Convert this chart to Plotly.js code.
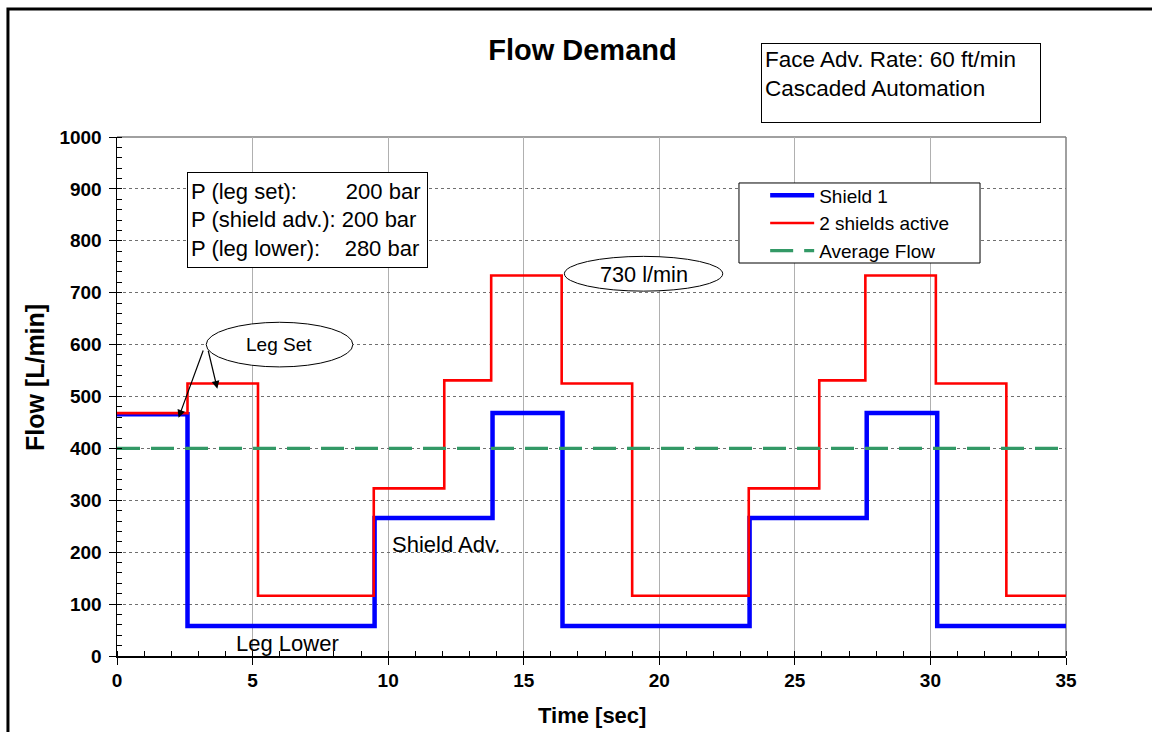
<!DOCTYPE html>
<html><head><meta charset="utf-8">
<script src="https://cdn.plot.ly/plotly-3.0.1.min.js"></script>
<style>html,body{margin:0;padding:0;background:#fff}</style>
</head><body><div id="chart" style="width:1152px;height:732px"></div>
<script>
// ---- data ----
const shield1Time = [0, 2.6, 9.5, 13.85, 16.43, 23.33, 27.65, 30.25, 35];
const shield1Flow = [466, 58, 266, 468, 58, 266, 468, 58, 58];
const twoShieldsTime = [0, 2.6, 5.2, 9.47, 12.07, 13.8, 16.4, 19.0, 23.3, 25.9, 27.6, 30.2, 32.8, 35];
const twoShieldsFlow = [468, 525, 116, 323, 531, 733, 525, 116, 323, 531, 733, 525, 116, 116];
const averageTime = [0, 35];
const averageFlow = [400, 400];
const xTicks = [0, 5, 10, 15, 20, 25, 30, 35];
const yTicks = [0, 100, 200, 300, 400, 500, 600, 700, 800, 900, 1000];
const seriesNames = ['Shield 1', '2 shields active', 'Average Flow'];

const FONT = 'Arial, "Liberation Sans", sans-serif';
const NB = '\u00a0';

const traces = [
  {x: shield1Time, y: shield1Flow, name: seriesNames[0], mode: 'lines',
   line: {shape: 'hv', color: '#0000ff', width: 4.5}},
  {x: twoShieldsTime, y: twoShieldsFlow, name: seriesNames[1], mode: 'lines',
   line: {shape: 'hv', color: '#ff0000', width: 2.6}},
  {x: averageTime, y: averageFlow, name: seriesNames[2], mode: 'lines',
   line: {color: '#339966', width: 3.2, dash: '23px,11px'}}
];

const layout = {
  width: 1152, height: 732, autosize: false,
  margin: {l: 117, r: 86, t: 137, b: 76},
  paper_bgcolor: '#ffffff', plot_bgcolor: '#ffffff',
  font: {family: FONT, color: '#000'},
  showlegend: true,
  title: {text: 'Flow Demand', font: {family: FONT, size: 29, weight: 700, color: '#000'},
          x: 0.5056, xanchor: 'center', xref: 'container', y: 0.9317, yanchor: 'middle', yref: 'container'},
  xaxis: {range: [0, 35], tickvals: xTicks, ticktext: xTicks.map(String), ticks: 'outside', ticklen: 7, tickwidth: 1,
          tickcolor: '#000', showline: true, linecolor: '#000', linewidth: 1.5, zeroline: false,
          showgrid: true, gridcolor: '#b0b0b0', gridwidth: 1,
          tickfont: {family: FONT, size: 19, weight: 700, color: '#000'},
          minor: {dtick: 1, ticks: 'inside', ticklen: 5, tickcolor: '#000', tickwidth: 1, showgrid: false}},
  yaxis: {range: [0, 1000], tickvals: yTicks, ticktext: yTicks.map(String), ticks: 'outside', ticklen: 7, tickwidth: 1,
          tickcolor: '#000', showline: true, linecolor: '#000', linewidth: 1.5, zeroline: false,
          showgrid: true, gridcolor: '#707070', gridwidth: 1, griddash: 'dot',
          tickfont: {family: FONT, size: 19, weight: 700, color: '#000'}, ticklabelstandoff: 3,
          minor: {dtick: 20, ticks: 'inside', ticklen: 5, tickcolor: '#000', tickwidth: 1, showgrid: false}},
  legend: {x: 0.683, y: 0.924, xanchor: 'left', yanchor: 'top', bgcolor: 'rgba(0,0,0,0)', borderwidth: 0,
           font: {family: FONT, size: 19, color: '#000'}, itemwidth: 44, tracegroupgap: 0},
  shapes: [
    // top and right plot frame
    {type: 'line', xref: 'paper', yref: 'paper', x0: 0, x1: 1, y0: 1, y1: 1, line: {color: '#808080', width: 1.5}, layer: 'below'},
    {type: 'line', xref: 'paper', yref: 'paper', x0: 1, x1: 1, y0: 0, y1: 1, line: {color: '#808080', width: 1.5}, layer: 'below'},
    // outer chart frame
    {type: 'rect', xref: 'paper', yref: 'paper', x0: -0.1149, x1: 1.2, y0: -0.3, y1: 1.2466, line: {color: '#000', width: 3}},
    // legend box
    {type: 'rect', xref: 'paper', yref: 'paper', x0: 0.6554, x1: 0.9094, y0: 0.7572, y1: 0.9114,
     line: {color: '#000', width: 1}, fillcolor: '#fff', layer: 'above'},
    // callout ellipses
    {type: 'circle', xref: 'x', yref: 'y', x0: 3.29, x1: 8.70, y0: 557, y1: 643, line: {color: '#000', width: 1}, fillcolor: '#fff'},
    {type: 'circle', xref: 'x', yref: 'y', x0: 16.50, x1: 22.34, y0: 703, y1: 770, line: {color: '#000', width: 1}, fillcolor: '#fff'}
  ],
  annotations: [
    {xref: 'paper', yref: 'paper', x: 0.0738, y: 0.9325, xanchor: 'left', yanchor: 'top', showarrow: false,
     text: 'P (leg set):' + NB.repeat(8) + '200 bar<br>P (shield adv.): 200 bar<br>P (leg lower):' + NB.repeat(4) + '280 bar',
     align: 'left', valign: 'middle', width: 233, height: 88, borderpad: 3, borderwidth: 1, bordercolor: '#000', bgcolor: '#fff',
     font: {family: FONT, size: 22, color: '#000'}},
    {xref: 'paper', yref: 'paper', x: 0.6786, y: 1.1811, xanchor: 'left', yanchor: 'top', showarrow: false,
     text: 'Face Adv. Rate: 60 ft/min<br>Cascaded Automation',
     align: 'left', valign: 'top', width: 272, height: 72, borderpad: 3, borderwidth: 1, bordercolor: '#000', bgcolor: '#fff',
     font: {family: FONT, size: 22.5, color: '#000'}},
    {xref: 'x', yref: 'y', x: 5.99, y: 600, showarrow: false, text: 'Leg Set', font: {family: FONT, size: 19, color: '#000'}},
    {xref: 'x', yref: 'y', x: 19.42, y: 736, showarrow: false, text: '730 l/min', font: {family: FONT, size: 21.7, color: '#000'}},
    {xref: 'x', yref: 'y', x: 10.08, y: 214, xanchor: 'left', showarrow: false, text: 'Shield Adv.', font: {family: FONT, size: 22, color: '#000'}},
    {xref: 'x', yref: 'y', x: 4.33, y: 25, xanchor: 'left', showarrow: false, text: 'Leg Lower', font: {family: FONT, size: 22, color: '#000'}},
    {xref: 'x', yref: 'y', x: 2.27, y: 459, axref: 'x', ayref: 'y', ax: 3.29, ay: 604.5, text: ' ', showarrow: true,
     arrowhead: 2, arrowsize: 1.3, arrowwidth: 1.2, arrowcolor: '#000', standoff: 0, startstandoff: 0},
    {xref: 'x', yref: 'y', x: 3.70, y: 515, axref: 'x', ayref: 'y', ax: 3.29, ay: 604.5, text: ' ', showarrow: true,
     arrowhead: 2, arrowsize: 1.3, arrowwidth: 1.2, arrowcolor: '#000', standoff: 0, startstandoff: 0},
    {xref: 'paper', yref: 'paper', x: -0.0864, y: 0.5356, xanchor: 'center', yanchor: 'middle', textangle: -90, showarrow: false,
     text: 'Flow [L/min]', font: {family: FONT, size: 25, weight: 700, color: '#000'}},
    {xref: 'paper', yref: 'paper', x: 0.5, y: -0.1137, xanchor: 'center', yanchor: 'middle', showarrow: false,
     text: 'Time [sec]', font: {family: FONT, size: 22, weight: 700, color: '#000'}}
  ]
};

Plotly.newPlot('chart', traces, layout, {displayModeBar: false, staticPlot: true});
</script>
</body></html>
